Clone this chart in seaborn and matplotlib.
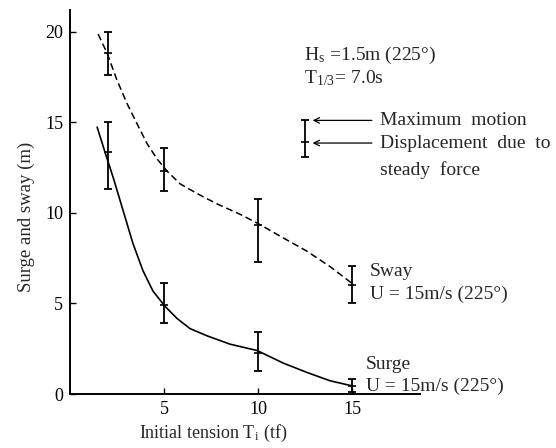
import matplotlib
matplotlib.use("Agg")
import matplotlib.pyplot as plt
import seaborn as sns
import numpy as np
import pandas as pd

# Smooth fitted curves
sway_curve_x = [1.49, 1.97, 2.5, 3.03, 3.56, 4.1, 4.63, 5.16, 5.85, 6.76, 7.82, 9.04, 10.1, 11.33, 12.6, 13.83, 15.0]
sway_curve_y = [19.87, 18.81, 17.31, 16.03, 14.92, 13.81, 12.97, 12.3, 11.6, 11.06, 10.49, 9.92, 9.35, 8.62, 7.88, 7.03, 6.1]
surge_curve_x = [1.44, 1.86, 2.29, 2.82, 3.35, 3.88, 4.41, 5.05, 5.69, 6.38, 7.29, 8.51, 9.95, 11.33, 12.6, 13.83, 15.0]
surge_curve_y = [14.73, 13.34, 11.96, 10.13, 8.29, 6.8, 5.68, 4.84, 4.17, 3.61, 3.21, 2.75, 2.40, 1.71, 1.19, 0.73, 0.45]

# Measured points: steady displacement and max motion range
tension = [2, 5, 10, 15]
sway_mid = [18.8, 12.3, 9.35, 6.0]
sway_low = [17.6, 11.2, 7.3, 5.0]
sway_high = [20.0, 13.6, 10.75, 7.07]
surge_mid = [13.35, 4.9, 2.28, 0.45]
surge_low = [11.3, 3.9, 1.29, 0.1]
surge_high = [15.0, 6.1, 3.44, 0.85]

x_ticks = [5, 10, 15]
y_ticks = [0, 5, 10, 15, 20]

sns.set_style("ticks")
plt.rcParams["font.family"] = ["Liberation Serif", "DejaVu Serif"]
plt.rcParams["mathtext.fontset"] = "stix"
FS = 14

fig = plt.figure(figsize=(5.56, 4.48), dpi=100)
ax = fig.add_axes([0.126, 0.1205, 0.629, 0.8575])

curves = pd.concat([
    pd.DataFrame({"T": sway_curve_x, "v": sway_curve_y, "s": "Sway"}),
    pd.DataFrame({"T": surge_curve_x, "v": surge_curve_y, "s": "Surge"}),
])
sns.lineplot(data=curves[curves.s == "Sway"], x="T", y="v", ax=ax, color="black",
             linestyle=(0, (4.5, 2.5)), linewidth=1.1, estimator=None, sort=True)
sns.lineplot(data=curves[curves.s == "Surge"], x="T", y="v", ax=ax, color="black",
             linestyle="-", linewidth=1.2, estimator=None, sort=True)

for mid, lo, hi in [(sway_mid, sway_low, sway_high), (surge_mid, surge_low, surge_high)]:
    mid = np.array(mid); lo = np.array(lo); hi = np.array(hi)
    ax.errorbar(tension, mid, yerr=[mid - lo, hi - mid], fmt="none", ecolor="black",
                elinewidth=1.3, capsize=3, capthick=1.3, clip_on=False)
    ax.plot(tension, mid, linestyle="none", marker="_", markersize=6, color="black",
            markeredgewidth=1.2)

# legend glyph
ax.errorbar([12.5], [13.9], yerr=[[0.8], [1.2]], fmt="none", ecolor="black",
            elinewidth=1.3, capsize=3, capthick=1.3, clip_on=False)
ax.plot([12.5], [13.9], marker="_", markersize=6, color="black", markeredgewidth=1.2)
for yv in [15.1, 13.85]:
    ax.annotate("", xy=(12.75, yv), xytext=(16.2, yv),
                arrowprops=dict(arrowstyle="->", color="black", lw=0.9))
ax.text(16.5, 15.1, "Maximum  motion", fontsize=FS, va="center", ha="left")
ax.text(16.5, 13.85, "Displacement  due  to", fontsize=FS, va="center", ha="left")
ax.text(16.5, 12.35, "steady  force", fontsize=FS, va="center", ha="left")

ax.text(12.45, 18.7, r"H$_\mathregular{s}$ =1.5m (225°)", fontsize=FS, va="center", ha="left")
ax.text(12.45, 17.45, r"T$_\mathregular{1/3}$= 7.0s", fontsize=FS, va="center", ha="left")

ax.text(15.95, 6.75, "Sway", fontsize=FS, va="center", ha="left")
ax.text(15.95, 5.5, "U = 15m/s (225°)", fontsize=FS, va="center", ha="left")
ax.text(15.75, 1.65, "Surge", fontsize=FS, va="center", ha="left")
ax.text(15.75, 0.45, "U = 15m/s (225°)", fontsize=FS, va="center", ha="left")

ax.set_xlim(0, 18.6)
ax.set_ylim(0, 21.2)
ax.set_xticks(x_ticks)
ax.set_yticks(y_ticks)
ax.tick_params(direction="in", length=4, width=1.0, labelsize=13, pad=5, colors="black")
for side in ["top", "right"]:
    ax.spines[side].set_visible(False)
for side in ["left", "bottom"]:
    ax.spines[side].set_linewidth(1.4)
    ax.spines[side].set_color("black")

ax.set_xlabel(r"Initial tension T$_\mathregular{i}$ (tf)", fontsize=13)
ax.set_ylabel("Surge and sway (m)", fontsize=13.5)
ax.xaxis.set_label_coords(0.41, -0.075)
ax.yaxis.set_label_coords(-0.10, 0.46)

fig.savefig("out.png", dpi=100)
